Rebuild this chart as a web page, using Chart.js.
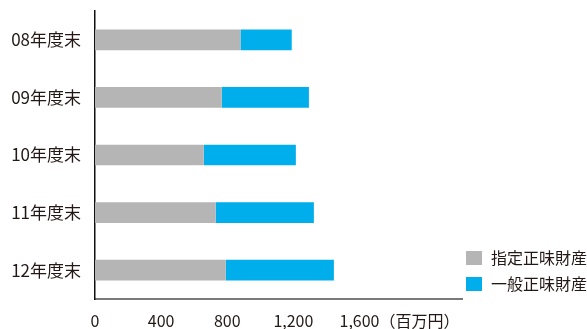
<!DOCTYPE html>
<html>
<head>
<meta charset="utf-8">
<script src="https://cdn.jsdelivr.net/npm/chart.js@4"></script>
<style>
  html, body { margin: 0; padding: 0; background: #fff; }
  #wrap { width: 587px; height: 329px; }
</style>
</head>
<body>
<div id="wrap"><canvas id="barchart"></canvas></div>
<script>
const years = ['08年度末', '09年度末', '10年度末', '11年度末', '12年度末'];
const restricted = [880, 767, 658, 730, 791];   // 指定正味財産
const general = [310, 527, 557, 594, 654];      // 一般正味財産
const xTicks = [0, 400, 800, 1200, 1600];
const unitLabel = '（百万円）';

const FONT = '"Noto Sans CJK JP", "Noto Sans", sans-serif';
const TEXT = '#231815';

// legend drawn by hand at the bottom right, plus the unit after the last tick
const extras = {
    id: 'extras',
    afterDraw(chart) {
        const c = chart.ctx;
        c.save();
        c.font = '16px ' + FONT;
        c.textBaseline = 'middle';
        chart.data.datasets.forEach((ds, i) => {
            const y = 258 + i * 26;
            c.fillStyle = ds.backgroundColor;
            c.fillRect(466, y - 7, 16, 14);
            c.fillStyle = TEXT;
            c.fillText(ds.label, 491, y);
        });

        const xs = chart.scales.x;
        const last = xTicks[xTicks.length - 1];
        const w = c.measureText(last.toLocaleString('en-US')).width;
        c.textAlign = 'left';
        c.textBaseline = 'alphabetic';
        c.fillText(unitLabel, xs.getPixelForValue(last) + w / 2, 327);
        c.restore();
    }
};

const ctx = document.getElementById('barchart').getContext('2d');
const myChart = new Chart(ctx, {
    type: 'bar',
    data: {
        labels: years,
        datasets: [
            {
                label: '指定正味財産',
                data: restricted,
                backgroundColor: '#b4b5b4'
            },
            {
                label: '一般正味財産',
                data: general,
                backgroundColor: '#00aeeb'
            }
        ]
    },
    options: {
        indexAxis: 'y',
        responsive: true,
        maintainAspectRatio: false,
        animation: false,
        layout: { padding: { top: 11, right: 125, left: 0, bottom: 0 } },
        plugins: {
            legend: { display: false },
            tooltip: { enabled: false }
        },
        datasets: {
            bar: { categoryPercentage: 1, barPercentage: 0.36 }
        },
        scales: {
            x: {
                stacked: true,
                min: 0,
                max: 2220,
                afterBuildTicks(scale) {
                    scale.ticks = xTicks.map(v => ({ value: v }));
                },
                afterFit(scale) { scale.height = 30; },
                grid: { display: false, drawTicks: false },
                border: { color: '#7a7a7a', width: 2 },
                ticks: {
                    padding: 12,
                    color: TEXT,
                    font: { family: FONT, size: 16 },
                    callback: v => v.toLocaleString('en-US')
                }
            },
            y: {
                stacked: true,
                afterFit(scale) {
                    scale.width = 95;
                    scale.paddingTop = 0;
                    scale.paddingBottom = 0;
                },
                grid: { display: false, drawTicks: false },
                border: { color: '#111', width: 1.5 },
                ticks: {
                    padding: 14,
                    color: TEXT,
                    font: { family: FONT, size: 17 }
                }
            }
        }
    },
    plugins: [extras]
});
</script>
</body>
</html>
